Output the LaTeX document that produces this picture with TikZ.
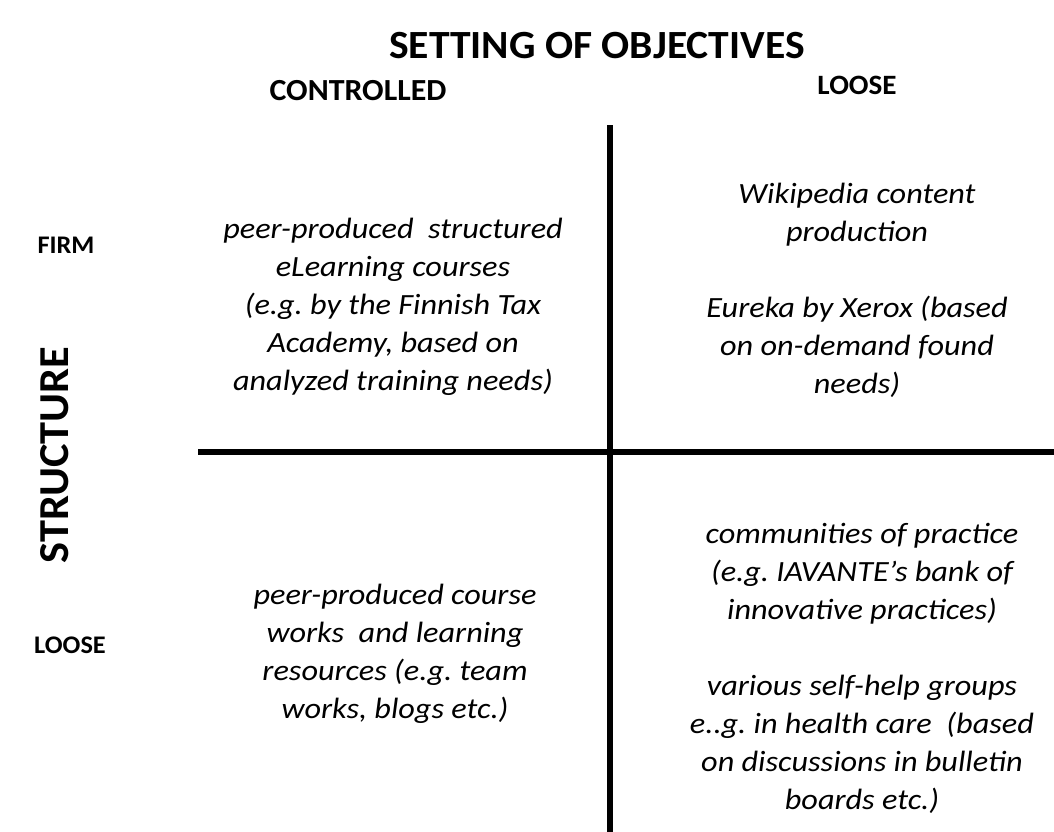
\documentclass[tikz,border=0pt]{standalone}
\usepackage{fontspec}
\setmainfont{Carlito}
\newfontfamily\cellfont[FakeStretch=1.1]{Carlito}
\newfontfamily\headfont[FakeStretch=1.04]{Carlito}
\frenchspacing
\begin{document}
\begin{tikzpicture}[x=0.75pt,y=-0.75pt,
  axis/.style={line width=3.8pt,black},
  head/.style={font=\headfont\bfseries\fontsize{21}{25}\selectfont,anchor=center,inner sep=0pt},
  bighead/.style={font=\headfont\bfseries\fontsize{30}{35}\selectfont,anchor=center,inner sep=0pt},
  cell/.style={font=\cellfont\itshape\fontsize{22}{28.5}\selectfont,align=center,anchor=north,inner sep=0pt}]
\useasboundingbox (0,0) rectangle (1054,832);
\node[bighead] (title) at (597,46) {SETTING OF OBJECTIVES};
\node[head,font=\headfont\bfseries\fontsize{23}{27}\selectfont] (ctrl) at (358,91) {CONTROLLED};
\node[head] (loosetop) at (857,85) {LOOSE};
\node[head,font=\headfont\bfseries\fontsize{19}{23}\selectfont] (firm) at (66,245) {FIRM};
\node[head,font=\headfont\bfseries\fontsize{19}{23}\selectfont] (looseleft) at (70,645) {LOOSE};
\node[bighead,rotate=90,font=\headfont\bfseries\fontsize{32}{37}\selectfont] (struct) at (55,455) {STRUCTURE};
\coordinate (vtop) at (610,125);
\coordinate (vbot) at (610,832);
\coordinate (hleft) at (198,452);
\coordinate (hright) at (1054,452);
\draw[axis] (vtop) -- (vbot);
\draw[axis] (hleft) -- (hright);
\node[cell] (tl) at (393,218) {peer-produced\ \ structured\\eLearning courses\\(e.g. by the Finnish Tax\\Academy, based on\\analyzed training needs)};
\node[cell] (tr) at (857,183) {Wikipedia content\\production\\[28.5pt]Eureka by Xerox (based\\on on-demand found\\needs)};
\node[cell] (bl) at (395,584) {peer-produced course\\works\ \ and learning\\resources (e.g. team\\works, blogs etc.)};
\node[cell] (br) at (862,523) {communities of practice\\(e.g. IAVANTE’s bank of\\innovative practices)\\[28.5pt]various self-help groups\\e..g. in health care\ \ (based\\on discussions in bulletin\\boards etc.)};
\end{tikzpicture}
\end{document}
